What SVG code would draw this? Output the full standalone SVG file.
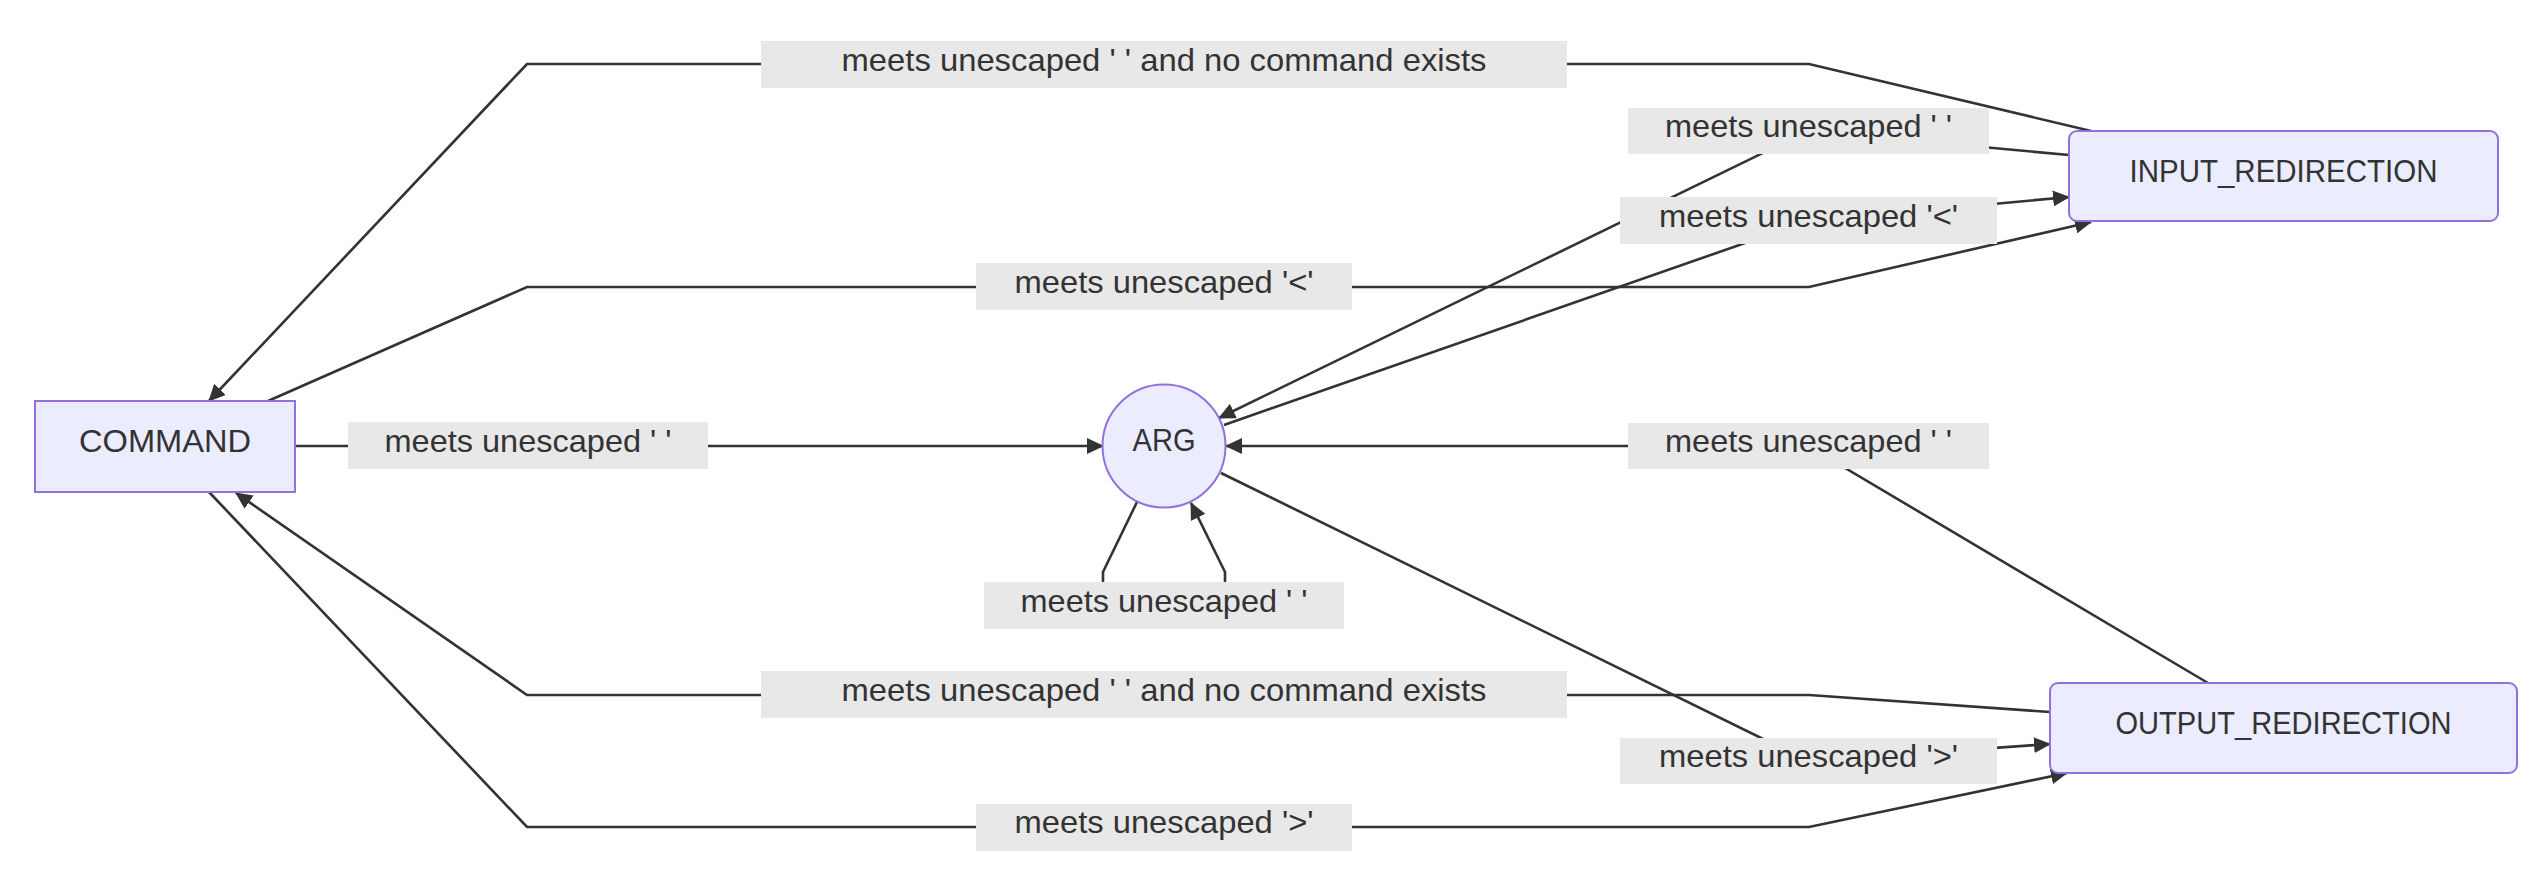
<svg xmlns="http://www.w3.org/2000/svg" width="2540" height="888" viewBox="0 0 2540 888">
<defs>
<marker id="arrow" markerUnits="userSpaceOnUse" markerWidth="17" markerHeight="16" viewBox="0 0 17 16" refX="16" refY="8" orient="auto">
<path d="M0,0 L17,8 L0,16 z" fill="#333333"/>
</marker>
<style>
.node-shape{fill:#ECECFF;stroke:#9370DB;stroke-width:2}
.node-text{font-family:"Liberation Sans",Arial,sans-serif;font-size:31px;fill:#333333;text-anchor:middle}
.edge{fill:none;stroke:#333333;stroke-width:2.6;marker-end:url(#arrow)}
.label-bg{fill:#E8E8E8}
.label-text{font-family:"Liberation Sans",Arial,sans-serif;font-size:32px;fill:#333333;text-anchor:middle}
</style>
</defs>
<rect x="0" y="0" width="2540" height="888" fill="#FFFFFF"/>
<g id="connectors">
<path class="edge" d="M2091,131 L1809,64 L527,64 L209,401"/>
<path class="edge" d="M268,401 L527,287 L1809,287 L2091,222"/>
<path class="edge" d="M295,446 L1103,446"/>
<path class="edge" d="M2069,155 L1808,131 L1219,418"/>
<path class="edge" d="M1224,425 L1808,221 L2069,197"/>
<path class="edge" d="M2208,683 L1808,446 L1226,446"/>
<path class="edge" d="M1137,502 L1103,572 L1103,605 L1225,605 L1225,572 L1191,503"/>
<path class="edge" d="M2050,712 L1809,695 L527,695 L236,493"/>
<path class="edge" d="M1221,473 L1808,761 L2050,744"/>
<path class="edge" d="M209,492 L527,827 L1809,827 L2067,773"/>
</g>
<g id="edge-labels">
<g id="label-input-command"><rect class="label-bg" x="761" y="41" width="806" height="47"/><text class="label-text" x="1164" y="71" textLength="645" lengthAdjust="spacingAndGlyphs">meets unescaped ' ' and no command exists</text></g>
<g id="label-input-arg"><rect class="label-bg" x="1628" y="108" width="361" height="46"/><text class="label-text" x="1808.5" y="137" textLength="287" lengthAdjust="spacingAndGlyphs">meets unescaped ' '</text></g>
<g id="label-arg-input"><rect class="label-bg" x="1620" y="197" width="377" height="47"/><text class="label-text" x="1808.5" y="227" textLength="299" lengthAdjust="spacingAndGlyphs">meets unescaped '&lt;'</text></g>
<g id="label-command-input"><rect class="label-bg" x="976" y="263" width="376" height="47"/><text class="label-text" x="1164" y="293" textLength="299" lengthAdjust="spacingAndGlyphs">meets unescaped '&lt;'</text></g>
<g id="label-command-arg"><rect class="label-bg" x="348" y="422" width="360" height="47"/><text class="label-text" x="528" y="452" textLength="287" lengthAdjust="spacingAndGlyphs">meets unescaped ' '</text></g>
<g id="label-output-arg"><rect class="label-bg" x="1628" y="423" width="361" height="46"/><text class="label-text" x="1808.5" y="452" textLength="287" lengthAdjust="spacingAndGlyphs">meets unescaped ' '</text></g>
<g id="label-arg-arg"><rect class="label-bg" x="984" y="582" width="360" height="47"/><text class="label-text" x="1164" y="612" textLength="287" lengthAdjust="spacingAndGlyphs">meets unescaped ' '</text></g>
<g id="label-output-command"><rect class="label-bg" x="761" y="671" width="806" height="47"/><text class="label-text" x="1164" y="701" textLength="645" lengthAdjust="spacingAndGlyphs">meets unescaped ' ' and no command exists</text></g>
<g id="label-arg-output"><rect class="label-bg" x="1620" y="738" width="377" height="46"/><text class="label-text" x="1808.5" y="767" textLength="299" lengthAdjust="spacingAndGlyphs">meets unescaped '&gt;'</text></g>
<g id="label-command-output"><rect class="label-bg" x="976" y="804" width="376" height="47"/><text class="label-text" x="1164" y="833" textLength="299" lengthAdjust="spacingAndGlyphs">meets unescaped '&gt;'</text></g>
</g>
<g id="node-COMMAND"><rect class="node-shape" x="35" y="401" width="260" height="91"/><text class="node-text" x="165" y="452" textLength="172" lengthAdjust="spacingAndGlyphs">COMMAND</text></g>
<g id="node-ARG"><circle class="node-shape" cx="1164" cy="446" r="61.5"/><text class="node-text" x="1164" y="451" textLength="63" lengthAdjust="spacingAndGlyphs">ARG</text></g>
<g id="node-INPUT_REDIRECTION"><rect class="node-shape" x="2069" y="131" width="429" height="90" rx="8" ry="8"/><text class="node-text" x="2283.5" y="182" textLength="308" lengthAdjust="spacingAndGlyphs">INPUT_REDIRECTION</text></g>
<g id="node-OUTPUT_REDIRECTION"><rect class="node-shape" x="2050" y="683" width="467" height="90" rx="8" ry="8"/><text class="node-text" x="2283.5" y="734" textLength="336" lengthAdjust="spacingAndGlyphs">OUTPUT_REDIRECTION</text></g>
</svg>
